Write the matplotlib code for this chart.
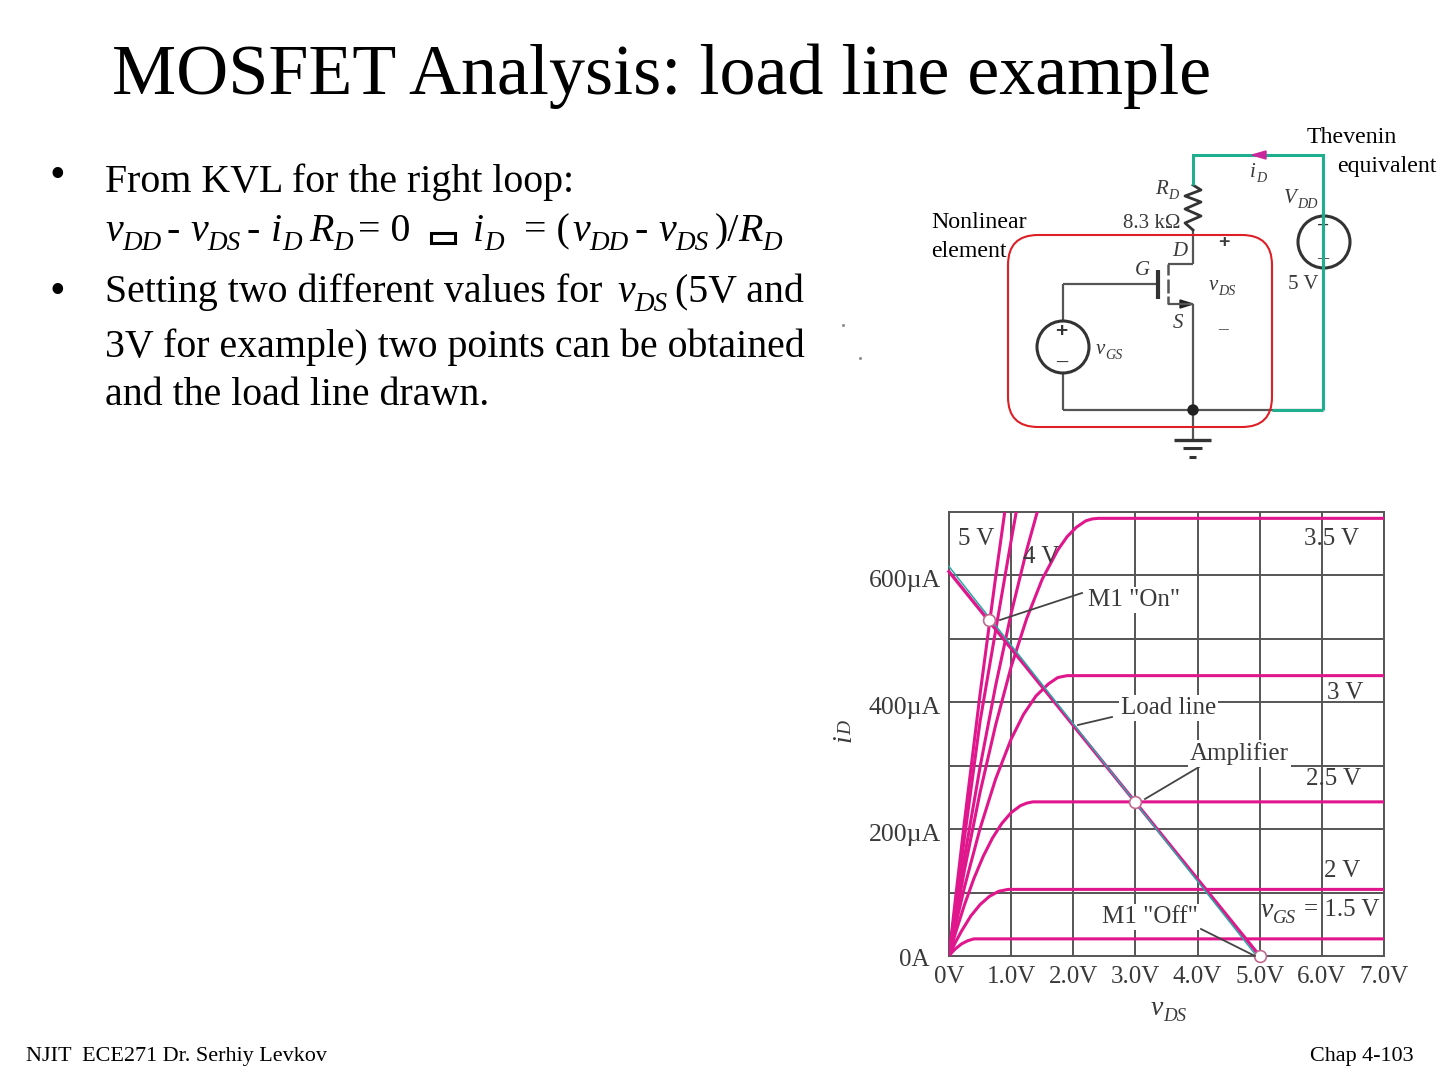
import matplotlib
matplotlib.use("Agg")
import matplotlib.pyplot as plt
from matplotlib.patches import Circle, FancyBboxPatch, Polygon
from matplotlib.transforms import ScaledTranslation

plt.rcParams['font.family'] = ['Liberation Serif', 'DejaVu Serif']

# ---------- chart data ----------
vds_ticks = [0, 1, 2, 3, 4, 5, 6, 7]
vds_tick_labels = ['0V', '1.0V', '2.0V', '3.0V', '4.0V', '5.0V', '6.0V', '7.0V']
id_ticks = [200, 400, 600]
id_tick_labels = ['200\u00b5A', '400\u00b5A', '600\u00b5A']

v_15 = [0, 0.05, 0.1, 0.15, 0.2, 0.3, 0.4, 0.45, 7]
i_15 = [0, 6, 11, 15, 19, 24, 27, 27, 27]
v_20 = [0, 0.1, 0.2, 0.35, 0.5, 0.65, 0.8, 0.95, 7]
i_20 = [0, 21, 39, 63, 81, 94, 102, 105, 105]
v_25 = [0, 0.1, 0.25, 0.4, 0.55, 0.7, 0.85, 1.0, 1.15, 1.25, 1.35, 7]
i_25 = [0, 35, 81, 122, 157, 186, 209, 226, 237, 241, 243, 243]
v_30 = [0, 0.1, 0.25, 0.5, 0.75, 1.0, 1.2, 1.4, 1.6, 1.75, 1.9, 7]
i_30 = [0, 46, 109, 201, 279, 342, 381, 410, 429, 439, 442, 442]
v_35 = [0, 0.1, 0.25, 0.5, 0.75, 1.0, 1.25, 1.5, 1.75, 1.9, 2.05, 2.2, 2.3, 2.4, 7]
i_35 = [0, 56, 136, 258, 364, 456, 532, 594, 640, 661, 676, 686, 689, 690, 690]
v_40 = [0, 0.1, 0.25, 0.5, 0.75, 1.0, 1.25, 1.42, 1.5]
i_40 = [0, 64, 156, 298, 426, 540, 640, 700, 725]
v_45 = [0, 0.1, 0.25, 0.5, 0.75, 1.0, 1.08, 1.2]
i_45 = [0, 76, 187, 370, 513, 655, 699, 760]
v_50 = [0, 0.1, 0.25, 0.5, 0.75, 0.9, 1.0]
i_50 = [0, 87, 213, 413, 597, 702, 768]
curves = [(v_15, i_15), (v_20, i_20), (v_25, i_25), (v_30, i_30),
          (v_35, i_35), (v_40, i_40), (v_45, i_45), (v_50, i_50)]

load_v = [0, 5.0]
load_i = [606, 0]
load_cyan_v = [0, 4.95]
load_cyan_i = [614, 0]
op_v = [0.65, 3.0, 5.0]
op_i = [530, 243, 0]

INK = '#3a3a3a'
PINK = '#e0168c'
GRID = '#555555'
GREEN = '#1fae8e'

fig = plt.figure(figsize=(14.4, 10.8), dpi=100, facecolor='white')

# ---------- chart ----------
ax = fig.add_axes([949/1440, (1080-956)/1080, (1384-949)/1440, (956-512)/1080])
ax.set_xlim(0, 7)
ax.set_ylim(0, 700)
ax.set_xticks(vds_ticks)
ax.set_xticklabels(vds_tick_labels, fontsize=18, color=INK)
ax.set_yticks(id_ticks)
ax.set_yticklabels(id_tick_labels, fontsize=18.5, color=INK)
ax.set_yticks([100, 300, 500], minor=True)
ax.tick_params(which='both', length=0)
ax.tick_params(axis='x', pad=7)
ax.tick_params(axis='y', pad=6)
shift = ScaledTranslation(0, -3/100, fig.dpi_scale_trans)
for lab in ax.get_yticklabels():
    lab.set_transform(lab.get_transform() + shift)
ax.grid(True, which='both', color=GRID, lw=1.4, zorder=1)
for s in ax.spines.values():
    s.set_color(GRID)
    s.set_linewidth(1.4)
ax.set_axisbelow(True)
for v, i in curves:
    ax.plot(v, i, color=PINK, lw=2.2, zorder=3, solid_joinstyle='round')
ax.plot(load_v, load_i, color=PINK, lw=2.4, zorder=4, clip_on=False)
ax.plot(load_cyan_v, load_cyan_i, color='#2aa7a5', lw=1.1, zorder=5, clip_on=False)
ax.plot(op_v, op_i, ls='none', marker='o', ms=8.5, mfc='white', mec='#c0688f', mew=1.2,
        zorder=6, clip_on=False)

# ---------- page overlay ----------
pg = fig.add_axes([0, 0, 1, 1])
pg.set_xlim(0, 1440)
pg.set_ylim(1080, 0)
pg.axis('off')
pg.patch.set_alpha(0)
rend = fig.canvas.get_renderer()


def T(x, y, s, size, **kw):
    kw.setdefault('va', 'baseline')
    kw.setdefault('ha', 'left')
    kw.setdefault('color', 'black')
    return pg.text(x, y, s, fontsize=size, **kw)


def SUB(x, y, base, sub, size, color='black', drop=0.22, style='italic', **kw):
    t = T(x, y, base, size, style=style, color=color, **kw)
    w = t.get_window_extent(rend).width
    T(x + w, y + size * drop / 0.72, sub, size * 0.68, style=style, color=color, **kw)


T(112, 94, 'MOSFET Analysis: load line example', 51.8)

B = 28.7
T(49, 187, '\u2022', 32)
T(49, 303, '\u2022', 32)
T(105, 192, 'From KVL for the right loop:', B)
SUB(105, 241, 'v', 'DD', B)
T(167, 241, '-', B)
SUB(190, 241, 'v', 'DS', B)
T(246, 241, '-', B)
SUB(271, 241, 'i', 'D', B)
SUB(309, 241, 'R', 'D', B)
T(358, 241, '= 0', B)
pg.add_patch(plt.Rectangle((431, 233), 24, 10, fill=False, ec='black', lw=2.2))
SUB(473, 241, 'i', 'D', B)
T(524, 241, '= (', B)
SUB(572, 241, 'v', 'DD', B)
T(635, 241, '-', B)
SUB(658, 241, 'v', 'DS', B)
T(715, 241, ')/', B)
SUB(738, 241, 'R', 'D', B)
T(105, 302, 'Setting two different values for', B)
SUB(617, 302, 'v', 'DS', B)
T(675, 302, '(5V and', B)
T(105, 357, '3V for example) two points can be obtained', B)
T(105, 405, 'and the load line drawn.', B)

T(26, 1061, 'NJIT  ECE271 Dr. Serhiy Levkov', 15.9)
T(1310, 1061, 'Chap 4-103', 15.9)

# specks
pg.plot([843, 860], [325, 358], ls='none', marker='s', ms=1, color='#888888')

# ---------- circuit ----------
WIRE = '#555555'


def W(xs, ys, c=WIRE, lw=1.6, z=2):
    pg.plot(xs, ys, color=c, lw=lw, solid_capstyle='butt', solid_joinstyle='miter', zorder=z)


W([1193, 1193], [230, 264])
W([1193, 1168], [264, 264])
W([1168, 1168], [264, 275], lw=1.8)
W([1168, 1168], [279, 293], lw=1.8)
W([1168, 1168], [296, 304], lw=1.8)
W([1158, 1158], [270, 299], c='#333333', lw=3)
W([1063, 1156], [284, 284])
W([1063, 1063], [284, 321])
W([1063, 1063], [373, 410])
W([1063, 1323], [410, 410])
W([1168, 1193], [304, 304])
W([1193, 1193], [304, 440])
pg.add_patch(Polygon([[1180, 300], [1193, 304], [1180, 308]], color='#222222'))
W([1174, 1211], [440, 440], c='#333333', lw=2.4)
W([1183, 1202], [448, 448], c='#333333', lw=2.2)
W([1189, 1196], [457, 457], c='#333333', lw=2.2)
pg.add_patch(Circle((1193, 410), 5, color='#222222', zorder=5))
pg.add_patch(Circle((1063, 347), 26, fc='white', ec='#333333', lw=2.2, zorder=3))
pg.add_patch(Circle((1324, 242), 26, fc='white', ec='#333333', lw=2.2, zorder=3))

W([1193, 1193, 1323, 1323], [185, 155, 155, 410], c=GREEN, lw=2.2, z=7)
W([1272, 1323], [410, 410], c=GREEN, lw=2.2, z=7)
pg.plot([1193, 1201, 1185, 1201, 1185, 1201, 1185, 1193],
        [185, 190, 196, 202, 209, 216, 223, 230], color='#333333', lw=2)
pg.add_patch(Polygon([[1252, 155], [1266, 151], [1266, 159]], color='#c9289a', zorder=8))

pg.add_patch(FancyBboxPatch((1038, 265), 204, 132, boxstyle='round,pad=30,rounding_size=30',
                            fc='none', ec='#dd1f26', lw=1.5, zorder=6))

T(1307, 143, 'Thevenin', 17.2)
T(1337, 172, 'equivalent', 17.2)
T(931, 228, 'Nonlinear', 17.2)
T(931, 257, 'element', 17.2)

C = 15
SUB(1250, 177, 'i', 'D', C, color=INK)
SUB(1155, 194, 'R', 'D', C, color=INK)
T(1123, 228, '8.3 k\u03a9', 15, color=INK)
SUB(1284, 203, 'V', 'DD', C, color=INK)
T(1218, 247, '+', 14, color=INK, family='Liberation Sans', fontweight='bold')
T(1172, 256, 'D', C, style='italic', color=INK)
T(1135, 275, 'G', C, style='italic', color=INK)
SUB(1209, 290, 'v', 'DS', C, color=INK)
T(1173, 328, 'S', C, style='italic', color=INK)
T(1218, 334, '\u2013', 14, color=INK)
SUB(1096, 354, 'v', 'GS', C, color=INK)
T(1288, 289, '5 V', 15, color=INK)
T(1055, 337, '+', 15, color='#333333', family='Liberation Sans', fontweight='bold', zorder=5)
T(1056, 368, '\u2013', 16, color='#333333', zorder=5, fontweight='bold')
T(1317, 232, '+', 15, color='#333333', family='Liberation Sans', zorder=5)
T(1317, 263, '\u2013', 16, color='#333333', zorder=5)

# ---------- chart annotations ----------
A = 18
white = dict(fc='white', ec='none', pad=1.5)
T(958, 545, '5 V', A, color=INK)
T(1023, 563, '4 V', A, color=INK)
T(1304, 545, '3.5 V', A, color=INK)
T(1327, 699, '3 V', A, color=INK)
T(1306, 785, '2.5 V', A, color=INK)
T(1324, 877, '2 V', A, color=INK)
SUB(1261, 917, 'v', 'GS', 20, color=INK)
T(1304, 916, '= 1.5 V', A, color=INK)
T(1088, 606, 'M1 "On"', A, color=INK, bbox=white)
T(1121, 714, 'Load line', A, color=INK, bbox=white)
T(1190, 760, 'Amplifier', A, color=INK, bbox=white)
T(1102, 923, 'M1 "Off"', A, color=INK, bbox=white)
for xs, ys in [([1082, 1000], [593, 620]), ([1112, 1078], [717, 725]),
               ([1199, 1145], [767, 799]), ([1201, 1255], [929, 956])]:
    pg.plot(xs, ys, color='#444444', lw=1.3)
T(899, 966, '0A', A, color=INK)

pg.text(831, 738, 'i', fontsize=20, style='italic', rotation=90, color=INK, ha='left', va='center')
pg.text(838, 728, 'D', fontsize=14, style='italic', rotation=90, color=INK, ha='left', va='center')
SUB(1151, 1015, 'v', 'DS', 20, color=INK)

fig.savefig('out.png', dpi=100)
